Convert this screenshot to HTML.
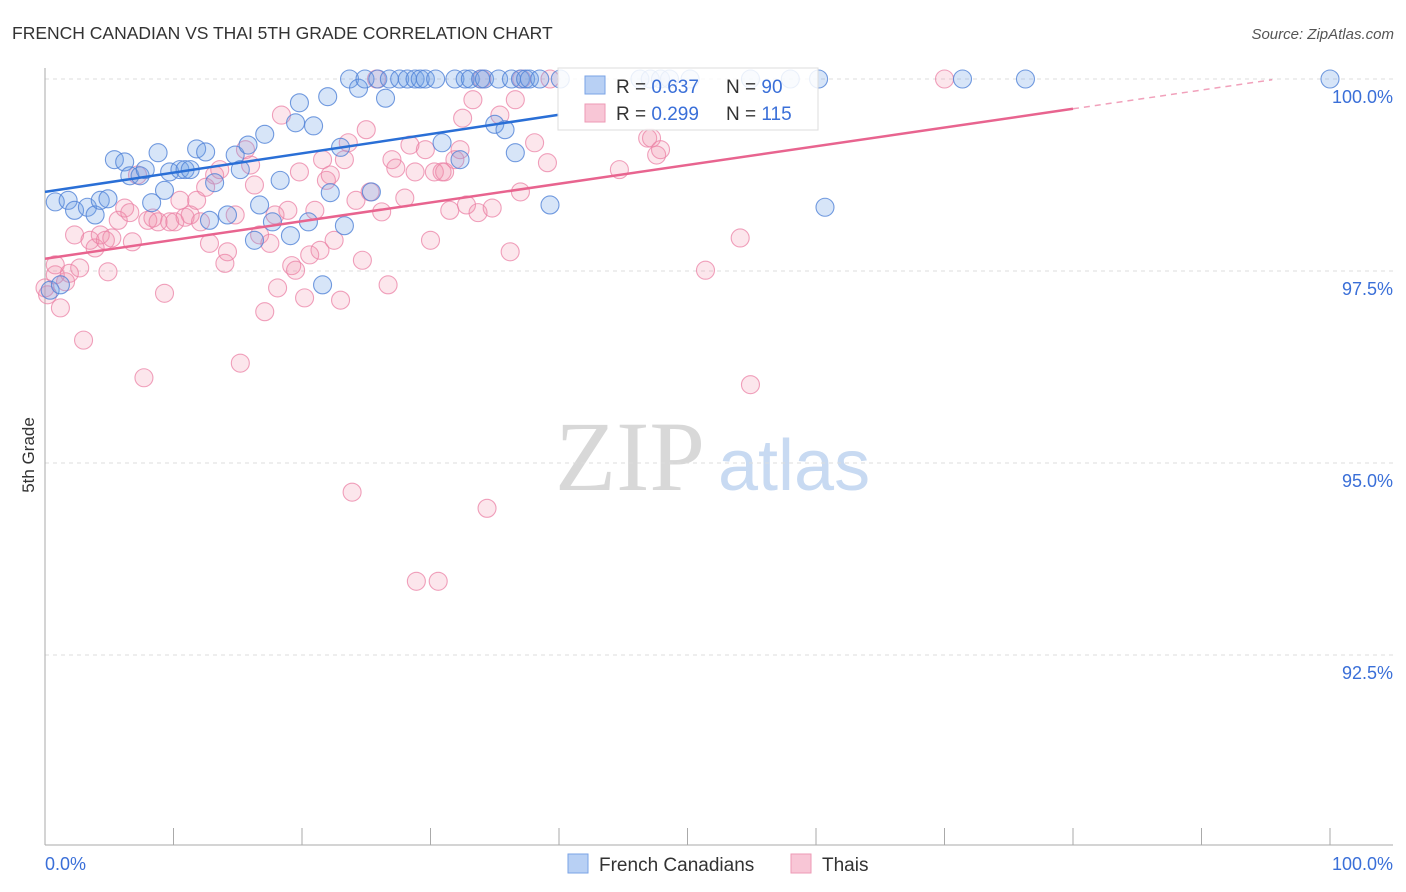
<!DOCTYPE html>
<html><head><meta charset="utf-8">
<style>
body{margin:0;background:#fff;font-family:"Liberation Sans",sans-serif;}
#wrap{position:relative;width:1406px;height:892px;overflow:hidden;}
</style></head>
<body>
<div id="wrap">
<svg id="svg" width="1406" height="892" xmlns="http://www.w3.org/2000/svg">
<text x="12" y="39" font-size="17.5" fill="#333">FRENCH CANADIAN VS THAI 5TH GRADE CORRELATION CHART</text>
<text x="1394" y="39" font-size="15" fill="#555" font-style="italic" text-anchor="end">Source: ZipAtlas.com</text>
<text x="34" y="455" font-size="17" fill="#333" transform="rotate(-90 34 455)" text-anchor="middle">5th Grade</text>
<text x="555" y="490" font-size="100" fill="#d8d8d8" font-family="Liberation Serif,serif">ZIP</text>
<text x="718" y="490" font-size="72" fill="#c8daf2">atlas</text>
<g id="grid"></g><g id="axes"></g><g id="pts"></g><g id="lines"></g>
<g>
<rect x="558" y="68" width="260" height="62" fill="#fff" fill-opacity="0.85" stroke="#ddd"/>
<rect x="585" y="76" width="20" height="18" fill="#b8d0f4" stroke="#7aa3e6"/>
<rect x="585" y="104" width="20" height="18" fill="#f8c6d6" stroke="#ee9ab5"/>
<text x="616" y="93" font-size="19" fill="#333">R = <tspan fill="#3a6fd8">0.637</tspan></text>
<text x="726" y="93" font-size="19" fill="#333">N = <tspan fill="#3a6fd8">90</tspan></text>
<text x="616" y="120" font-size="19" fill="#333">R = <tspan fill="#3a6fd8">0.299</tspan></text>
<text x="726" y="120" font-size="19" fill="#333">N = <tspan fill="#3a6fd8">115</tspan></text>
</g>
<g>
<rect x="568" y="854" width="20" height="19" fill="#b8d0f4" stroke="#7aa3e6"/>
<text x="599" y="871" font-size="19" fill="#333">French Canadians</text>
<rect x="791" y="854" width="20" height="19" fill="#f8c6d6" stroke="#ee9ab5"/>
<text x="822" y="871" font-size="19" fill="#333">Thais</text>
</g>
</svg>
</div>
<script>
const yTicks=[100,97.5,95,92.5];
const yTickLabels=["100.0%","97.5%","95.0%","92.5%"];
const xTickLabels=["0.0%","100.0%"];
const blueX=[0.8,1.8,2.3,3.3,3.9,4.3,4.9,5.4,6.2,6.6,7.4,7.8,8.3,8.8,9.3,9.7,10.5,10.9,11.3,11.8,12.5,12.8,13.2,14.2,14.8,15.2,15.8,16.3,16.7,17.1,17.7,18.3,19.1,19.5,19.8,20.5,20.9,21.6,22.0,22.2,23.0,23.3,23.7,24.4,24.9,25.4,25.9,26.5,26.8,27.6,28.2,28.8,29.2,29.6,30.4,30.9,31.9,32.3,32.7,33.1,33.9,34.2,35.0,35.3,35.8,36.3,36.6,37.0,37.4,37.7,38.5,39.3,40.1,46.3,47.1,47.9,48.6,50.2,54.9,58.0,60.2,60.7,71.4,76.3,100,0.4,1.2];
const blueY=[98.40,98.42,98.29,98.33,98.23,98.42,98.44,98.95,98.92,98.74,98.74,98.82,98.39,99.04,98.55,98.79,98.82,98.82,98.82,99.09,99.05,98.16,98.65,98.23,99.01,98.82,99.14,97.90,98.36,99.28,98.14,98.68,97.96,99.43,99.69,98.14,99.39,97.32,99.77,98.52,99.11,98.09,100,99.88,100,98.53,100,99.75,100,100,100,100,100,100,100,99.17,100,98.95,100,100,100,100,99.41,100,99.34,100,99.04,100,100,100,100,98.36,100,100,100,100,100,100,100,100,100,98.33,100,100,100,97.25,97.32];
const pinkX=[0.2,0.8,1.2,1.6,1.9,2.3,2.7,3.0,3.5,3.9,4.3,4.7,4.9,5.2,5.7,6.2,6.6,6.8,7.2,7.7,8.0,8.4,8.8,9.3,9.7,10.1,10.5,10.9,11.3,11.8,12.1,12.5,12.8,13.2,13.6,14.0,14.2,14.8,15.2,15.6,16.0,16.3,16.7,17.1,17.5,17.9,18.1,18.4,18.9,19.2,19.5,19.8,20.2,20.6,21.0,21.4,21.6,21.9,22.2,22.5,23.0,23.3,23.6,23.9,24.2,24.7,25.0,25.3,25.8,26.2,26.7,27.0,27.3,28.0,28.4,28.8,28.9,29.6,30.0,30.3,30.6,30.9,31.1,31.5,31.9,32.3,32.5,32.8,33.3,33.7,34.0,34.4,34.8,35.4,36.2,36.6,37.0,37.1,38.1,39.1,39.3,44.7,46.9,47.2,47.6,47.9,51.4,54.1,54.9,70.0,0.8,0.0];
const pinkY=[97.19,97.45,97.02,97.36,97.47,97.97,97.54,96.60,97.90,97.80,97.97,97.90,97.49,97.93,98.16,98.32,98.26,97.88,98.75,96.11,98.16,98.19,98.14,97.21,98.14,98.14,98.42,98.20,98.23,98.42,98.14,98.59,97.86,98.75,98.82,97.60,97.75,98.23,96.30,99.08,98.88,98.62,97.97,96.97,97.86,98.23,97.28,99.53,98.29,97.57,97.51,98.79,97.15,97.71,98.29,97.77,98.95,98.68,98.75,97.90,97.12,98.95,99.17,94.62,98.42,97.64,99.34,98.53,100,98.27,97.32,98.95,98.84,98.45,99.14,98.79,93.46,99.08,97.90,98.79,93.46,98.79,98.79,98.29,98.95,99.08,99.49,98.36,99.73,98.26,100,94.41,98.32,99.53,97.75,99.73,98.53,100,99.17,98.91,100,98.82,99.23,99.23,99.01,99.08,97.51,97.93,96.02,100,97.58,97.28];
const blueTrend=[98.53,101.04];
const pinkTrend=[97.66,100.1];
const NS="http://www.w3.org/2000/svg";
const X0=45,X1=1330,Y100=79,PXPER=76.8;
function sx(v){return X0+(X1-X0)*v/100;}
function sy(v){return Y100+(100-v)*PXPER;}
function mk(tag,attrs,parent){const e=document.createElementNS(NS,tag);for(const k in attrs)e.setAttribute(k,attrs[k]);parent.appendChild(e);return e;}
const grid=document.getElementById('grid'),axes=document.getElementById('axes'),pts=document.getElementById('pts'),lines=document.getElementById('lines');
yTicks.forEach((t,i)=>{
 const l=mk('line',{x1:X0,x2:1393,y1:sy(t),y2:sy(t),stroke:'#ddd','stroke-dasharray':'4,4'},grid);
 
 
 const tx=mk('text',{x:1393,y:sy(t)+24,'font-size':18,fill:'#3a6fd8','text-anchor':'end'},axes);
 tx.textContent=yTickLabels[i];
 
 
});
const ya=mk('line',{x1:X0,x2:X0,y1:68,y2:845,stroke:'#aaa'},axes);


const xa=mk('line',{x1:X0,x2:1393,y1:845,y2:845,stroke:'#aaa'},axes);


for(let i=0;i<=10;i++){
 const t=mk('line',{x1:sx(i*10),x2:sx(i*10),y1:828,y2:845,stroke:'#aaa'},axes);
 
 
}
[[0,'start',X0],[1,'end',1393]].forEach(([i,a,x])=>{
 const tx=mk('text',{x:x,y:870,'font-size':18,fill:'#3a6fd8','text-anchor':a},axes);
 tx.textContent=xTickLabels[i];
 
 
});
pinkX.forEach((x,i)=>{
 const c=mk('circle',{cx:sx(x),cy:sy(pinkY[i]),r:9,fill:'rgba(240,140,170,0.22)',stroke:'rgba(235,130,165,0.75)','stroke-width':1.1},pts);
 
 
});
blueX.forEach((x,i)=>{
 const c=mk('circle',{cx:sx(x),cy:sy(blueY[i]),r:9,fill:'rgba(110,160,230,0.28)',stroke:'rgba(80,130,215,0.8)','stroke-width':1.1},pts);
 
 
});
function yAt(tr,x){return tr[0]+(tr[1]-tr[0])*x/100;}
const bl=mk('line',{x1:sx(0),y1:sy(blueTrend[0]),x2:sx(40),y2:sy(yAt(blueTrend,40)),stroke:'#2a6fd6','stroke-width':2.5},lines);


const pl=mk('line',{x1:sx(0),y1:sy(pinkTrend[0]),x2:sx(80),y2:sy(yAt(pinkTrend,80)),stroke:'#e8648f','stroke-width':2.5},lines);


const pl2=mk('line',{x1:sx(80),y1:sy(yAt(pinkTrend,80)),x2:sx(95.5),y2:sy(yAt(pinkTrend,95.5)),stroke:'#e8648f','stroke-width':1.5,'stroke-dasharray':'6,5','opacity':0.6},lines);


</script>
</body></html>
